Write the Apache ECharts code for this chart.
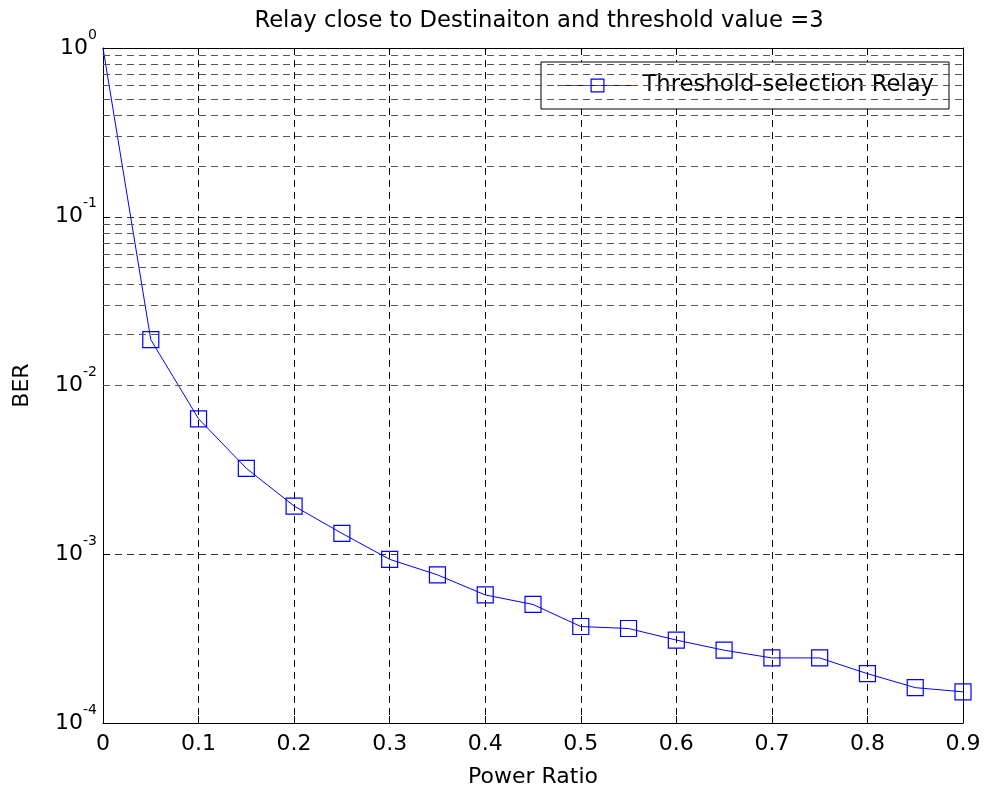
<!DOCTYPE html>
<html>
<head>
<meta charset="utf-8">
<script src="https://cdn.jsdelivr.net/npm/echarts@6/dist/echarts.min.js"></script>
<style>html,body{margin:0;padding:0;background:#fff}#c{width:985px;height:793px}</style>
</head>
<body>
<div id="c"></div>
<script>
const titleText = 'Relay close to Destinaiton and threshold value =3';
const seriesName = 'Threshold-selection Relay';
const xName = 'Power Ratio';
const yName = 'BER';
const powerRatio = [0, 0.05, 0.1, 0.15, 0.2, 0.25, 0.3, 0.35, 0.4, 0.45, 0.5, 0.55, 0.6, 0.65, 0.7, 0.75, 0.8, 0.85, 0.9];
const ber = [1, 0.0187, 0.00635, 0.00323, 0.00193, 0.00133, 0.000933, 0.000755, 0.000574, 0.000504, 0.000373, 0.000363, 0.00031, 0.00027, 0.000243, 0.000243, 0.000196, 0.000162, 0.000153];
const xTicks = [0, 0.1, 0.2, 0.3, 0.4, 0.5, 0.6, 0.7, 0.8, 0.9];
const yDecades = [1e-4, 1e-3, 1e-2, 1e-1, 1];
const minorGridValues = [];
for (let d = -4; d < 0; d++) { for (let m = 2; m <= 9; m++) minorGridValues.push(+(m * Math.pow(10, d)).toPrecision(3)); }

const FONT = 'DejaVu Sans';
const BLUE = '#0000ff';
const dash = [7, 5];

const chart = echarts.init(document.getElementById('c'), null, {renderer: 'canvas'});
const data = powerRatio.map((x, i) => i === 0 ? {value: [x, ber[i]], symbol: 'none'} : [x, ber[i]]);

const supLabel = {
  fontFamily: FONT, color: '#000',
  formatter: v => '{b|10}{s|' + Math.round(Math.log10(v)) + '}',
  rich: {
    b: {fontFamily: FONT, fontSize: 22, lineHeight: 40, verticalAlign: 'middle', color: '#000'},
    s: {fontFamily: FONT, fontSize: 14, lineHeight: 14, verticalAlign: 'top', color: '#000'}
  }
};

chart.setOption({
  animation: false,
  backgroundColor: '#fff',
  title: {
    text: titleText, left: 534, top: 5, textAlign: 'center',
    textStyle: {fontFamily: FONT, fontSize: 22.7, fontWeight: 'normal', color: '#000'}
  },
  legend: {
    data: [seriesName], left: 541, top: 62,
    orient: 'vertical',
    backgroundColor: '#fff', borderColor: '#000', borderWidth: 1, borderRadius: 0,
    padding: [12, 15, 12, 16],
    itemWidth: 80, itemHeight: 16, itemGap: 8,
    lineStyle: {color: BLUE, width: 1},
    itemStyle: {color: 'rgba(0,0,0,0)', borderColor: BLUE, borderWidth: 1.2},
    textStyle: {fontFamily: FONT, fontSize: 22.7, color: '#000'},
    selectedMode: false
  },
  grid: {left: 103, right: 22, top: 48, bottom: 69, containLabel: false},
  xAxis: [{
    type: 'value', min: 0, max: 0.9, interval: 0.1,
    name: xName, nameLocation: 'middle', nameGap: 43,
    nameTextStyle: {fontFamily: FONT, fontSize: 22, color: '#000'},
    axisLine: {show: true, onZero: false, lineStyle: {color: '#000', width: 1}},
    axisTick: {show: true, inside: true, length: 7, lineStyle: {color: '#000'}},
    axisLabel: {fontFamily: FONT, fontSize: 22, color: '#000', margin: 10,
      formatter: v => { const t = xTicks.find(k => Math.abs(k - v) < 1e-9); return t === undefined ? '' : String(t); }},
    splitLine: {show: true, lineStyle: {color: '#000', type: dash, width: 1}}
  }, {
    type: 'value', min: 0, max: 0.9, interval: 0.1, position: 'top',
    axisLine: {show: true, onZero: false, lineStyle: {color: '#000', width: 1}},
    axisTick: {show: true, inside: true, length: 7, lineStyle: {color: '#000'}},
    axisLabel: {show: false}, splitLine: {show: false}
  }],
  yAxis: [{
    type: 'log', logBase: 10, min: yDecades[0], max: yDecades[yDecades.length - 1],
    name: yName, nameLocation: 'middle', nameGap: 70,
    nameTextStyle: {fontFamily: FONT, fontSize: 22, color: '#000'},
    axisLine: {show: true, onZero: false, lineStyle: {color: '#000', width: 1}},
    axisTick: {show: true, inside: true, length: 7, lineStyle: {color: '#000'}},
    axisLabel: Object.assign({margin: 6}, supLabel),
    splitLine: {show: true, lineStyle: {color: '#333', type: dash, width: 1}}
  }, {
    type: 'log', logBase: 10, min: yDecades[0], max: yDecades[yDecades.length - 1], position: 'right',
    axisLine: {show: true, onZero: false, lineStyle: {color: '#000', width: 1}},
    axisTick: {show: true, inside: true, length: 7, lineStyle: {color: '#000'}},
    axisLabel: {show: false}, splitLine: {show: false}
  }],
  series: [{
    name: seriesName, type: 'line', xAxisIndex: 0, yAxisIndex: 0,
    data: data,
    symbol: 'rect', symbolSize: 16, showAllSymbol: true,
    lineStyle: {color: BLUE, width: 1},
    itemStyle: {color: 'rgba(0,0,0,0)', borderColor: BLUE, borderWidth: 1.2},
    emphasis: {disabled: true},
    z: 3,
    markLine: {
      silent: true, symbol: ['none', 'none'], animation: false,
      label: {show: false},
      lineStyle: {color: '#555', type: dash, width: 1},
      emphasis: {disabled: true},
      data: minorGridValues.map(v => ({yAxis: v}))
    }
  }]
});
</script>
</body>
</html>
